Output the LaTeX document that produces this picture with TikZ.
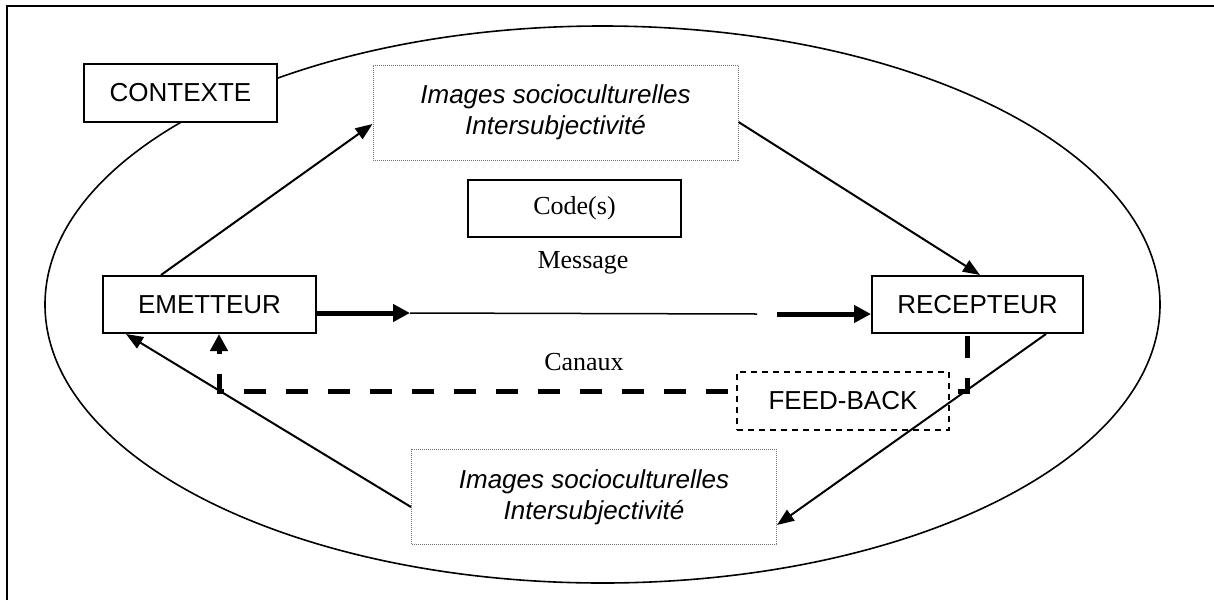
\documentclass[tikz,border=0pt]{standalone}
\usepackage{fontspec}
\setmainfont{Liberation Serif}
\setsansfont{Liberation Sans}
\usetikzlibrary{arrows.meta,calc}

\tikzset{
  solidbox/.style={draw=black, line width=1pt, fill=white, inner sep=0pt,
    font=\sffamily\fontsize{13}{15.5}\selectfont},
  imgbox/.style={draw=black!55, line width=0.5pt, dash pattern=on 0.5pt off 0.5pt,
    fill=white, inner sep=0pt, align=center,
    minimum width=182.5pt, minimum height=47.5pt,
    font=\sffamily\itshape\fontsize{13}{15.5}\selectfont},
  fbbox/.style={draw=black, line width=0.6pt, dash pattern=on 3pt off 2.5pt,
    fill=white, inner sep=0pt, minimum width=106pt, minimum height=29pt,
    font=\sffamily\fontsize{13}{15.5}\selectfont},
  plainlabel/.style={inner sep=0pt, font=\rmfamily\fontsize{13}{15.5}\selectfont},
  thinarrow/.style={line width=1pt, -{Triangle[length=8.5pt,width=6.5pt]}},
  thickarrow/.style={line width=2.5pt, -{Triangle[length=8.5pt,width=8.5pt]}},
  fbarrow/.style={line width=2.5pt, dash pattern=on 11pt off 10pt,
    -{Triangle[length=8.5pt,width=8.5pt]}},
}

\begin{document}
\begin{tikzpicture}[x=0.5pt,y=-0.5pt]
  \useasboundingbox (0,0) rectangle (1214,600);

  % outer frame (top and left edges)
  \draw[line width=1pt] (7,600) -- (7,6) -- (1214,6);

  % context ellipse
  \draw[line width=0.8pt] (602.5,304.5) ellipse [x radius=278.75pt, y radius=139.25pt];

  % free ends of the message line
  \coordinate (m1) at (410,313);
  \coordinate (m2) at (757,314);
  \coordinate (m3) at (777,314);
  % corners of the feedback loop
  \coordinate (fbr) at (967,391);
  \coordinate (fbl) at (219,391);

  % nodes
  \node[solidbox, minimum width=96.5pt, minimum height=29pt] (ctx) at (180.5,93) {CONTEXTE};
  \node[imgbox] (imgtop) at (555.5,112.5) {Images socioculturelles\\Intersubjectivité};
  \node[solidbox, minimum width=106.5pt, minimum height=28.5pt,
        font=\rmfamily\fontsize{13}{15.5}\selectfont] (code) at (574.5,208.5) {Code(s)};
  \node[plainlabel] (msg) at (583,263) {Message};
  \node[solidbox, minimum width=106.5pt, minimum height=28.5pt] (emet) at (209.5,304.5) {EMETTEUR};
  \node[solidbox, minimum width=105.5pt, minimum height=28.5pt] (recep) at (977.5,304.5) {RECEPTEUR};
  \node[plainlabel] (canaux) at (584,362) {Canaux};
  \node[imgbox] (imgbot) at (594,497) {Images socioculturelles\\Intersubjectivité};

  % feedback loop (behind the feed-back box)
  \draw[fbarrow] ([xshift=-5.25pt,yshift=-1pt]recep.south) -- (fbr) -- (fbl)
     -- ([xshift=4.75pt]emet.south);
  \node[fbbox] (feed) at (843,401) {FEED-BACK};

  % message channel
  \draw[thickarrow] ([yshift=-4.25pt]emet.east) -- (m1);
  \draw[line width=0.75pt] (m1) -- (m2);
  \draw[thickarrow] (m3) -- ([yshift=-4.75pt]recep.west);

  % exchange through sociocultural images
  \draw[thinarrow] ([xshift=29.5pt]emet.north west) -- ([yshift=-5.75pt]imgtop.west);
  \draw[thinarrow] ([yshift=-4.75pt]imgtop.east) -- ([xshift=1.25pt]recep.north);
  \draw[thinarrow] ([xshift=-19pt]recep.south east) -- ([yshift=-14pt]imgbot.east);
  \draw[thinarrow] ([yshift=-5pt]imgbot.west) -- ([xshift=12pt]emet.south west);
\end{tikzpicture}
\end{document}
